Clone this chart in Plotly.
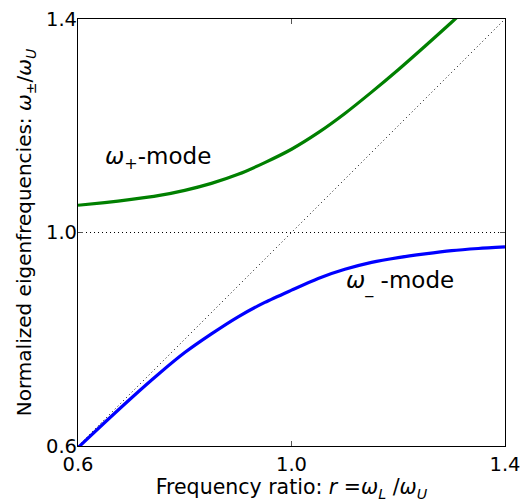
import plotly.graph_objects as go

# frequency ratio r = omega_L / omega_U
r_values = [0.60, 0.65, 0.70, 0.75, 0.80, 0.85, 0.90, 0.95, 1.00, 1.05,
            1.10, 1.15, 1.20, 1.25, 1.30, 1.35, 1.40]
omega_plus = [1.051, 1.056, 1.062, 1.069, 1.079, 1.092, 1.109, 1.131, 1.156, 1.187,
              1.223, 1.263, 1.305, 1.349, 1.394, 1.440, 1.487]
omega_minus = [0.597, 0.644, 0.690, 0.734, 0.775, 0.810, 0.842, 0.869, 0.892, 0.914,
               0.931, 0.944, 0.953, 0.960, 0.966, 0.970, 0.973]
diag_x = [0.6, 1.4]
diag_y = [0.6, 1.4]
ref_level = [1.0, 1.0]
tick_vals = [0.6, 1.0, 1.4]
tick_text = ["0.6", "1.0", "1.4"]

FONT = "DejaVu Sans"

fig = go.Figure()
fig.add_trace(go.Scatter(x=diag_x, y=diag_y, mode="lines",
                         line=dict(color="black", width=1, dash="1px,3px"),
                         hoverinfo="skip", showlegend=False))
fig.add_trace(go.Scatter(x=diag_x, y=ref_level, mode="lines",
                         line=dict(color="black", width=1, dash="1px,3px"),
                         hoverinfo="skip", showlegend=False))
fig.add_trace(go.Scatter(x=r_values, y=omega_plus, mode="lines",
                         line=dict(color="#008000", width=3.2, shape="spline", smoothing=0.7),
                         showlegend=False))
fig.add_trace(go.Scatter(x=r_values, y=omega_minus, mode="lines",
                         line=dict(color="#0000ff", width=3.2, shape="spline", smoothing=0.7),
                         showlegend=False))

fig.add_annotation(x=0.647, y=1.139, xref="x", yref="y", xanchor="left", yanchor="middle",
                   text="<i>ω</i><sub>+</sub>-mode", showarrow=False,
                   font=dict(family=FONT, size=23, color="black"))
fig.add_annotation(x=1.098, y=0.907, xref="x", yref="y", xanchor="left", yanchor="middle",
                   text="<i>ω</i><sub>_</sub> -mode", showarrow=False,
                   font=dict(family=FONT, size=23, color="black"))

axis_common = dict(range=[0.6, 1.4], tickvals=tick_vals, ticktext=tick_text,
                   ticks="inside", ticklen=5, tickcolor="#555555", tickwidth=1,
                   showline=True, linecolor="black", linewidth=1.2, mirror="ticks",
                   showgrid=False, zeroline=False, automargin=False,
                   tickfont=dict(family=FONT, size=19.5, color="black"))

fig.update_xaxes(**axis_common,
                 title=dict(text="Frequency ratio: <i>r</i> =<i>ω</i><sub><i>L</i></sub> /<i>ω</i><sub><i>U</i></sub>",
                            font=dict(family=FONT, size=20.5, color="black"), standoff=4))
fig.update_yaxes(**axis_common, ticklabelstandoff=-4,
                 title=dict(text="Normalized eigenfrequencies: <i>ω</i><sub>±</sub>/<i>ω</i><sub><i>U</i></sub>",
                            font=dict(family=FONT, size=20, color="black"), standoff=8))

fig.update_layout(width=524, height=504,
                  margin=dict(l=78, r=19, t=19, b=58),
                  plot_bgcolor="white", paper_bgcolor="white")

fig.write_html("out.html")
